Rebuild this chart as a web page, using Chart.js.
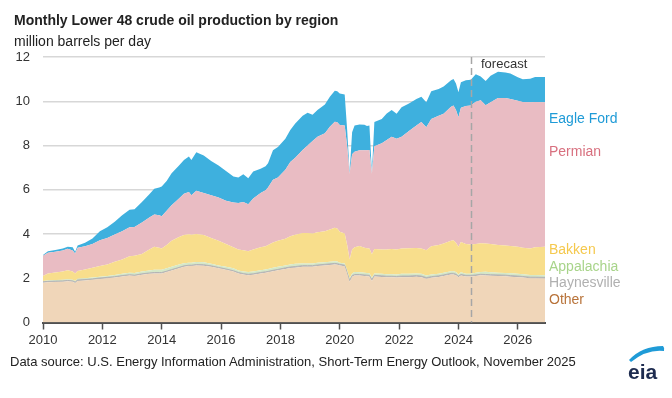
<!DOCTYPE html>
<html>
<head>
<meta charset="utf-8">
<script src="https://cdn.jsdelivr.net/npm/chart.js@4.4.1/dist/chart.umd.min.js"></script>
<style>
  html, body { margin: 0; padding: 0; background: #fff; }
  body { width: 672px; height: 398px; position: relative; overflow: hidden; font-family: "Liberation Sans", Arial, sans-serif; }
  #wrap { position: absolute; left: 0; top: 0; width: 672px; height: 398px; }
  .t { position: absolute; white-space: nowrap; line-height: 1; }
  #title { left: 14px; top: 13px; font-size: 14px; font-weight: bold; color: #222; }
  #sub { left: 14px; top: 34px; font-size: 14px; color: #222; }
  .lab { font-size: 14px; left: 549px; }
  #src { left: 10px; top: 355px; font-size: 13px; color: #222; }
  #fc { left: 481px; top: 57px; font-size: 13px; color: #333; }
  #logo { position: absolute; left: 620px; top: 340px; }
</style>
</head>
<body>
<div id="wrap"><canvas id="c" width="672" height="398"></canvas></div>
<div class="t" id="title">Monthly Lower 48 crude oil production by region</div>
<div class="t" id="sub">million barrels per day</div>
<div class="t" id="fc">forecast</div>
<div class="t lab" style="top:111px;color:#1f9bd7">Eagle Ford</div>
<div class="t lab" style="top:144px;color:#d8707f">Permian</div>
<div class="t lab" style="top:242px;color:#f5c94e">Bakken</div>
<div class="t lab" style="top:259px;color:#a8d48a">Appalachia</div>
<div class="t lab" style="top:275px;color:#b0b0b0">Haynesville</div>
<div class="t lab" style="top:292px;color:#b8733a">Other</div>
<div class="t" id="src">Data source: U.S. Energy Information Administration, Short-Term Energy Outlook, November 2025</div>
<svg id="logo" width="48" height="44" viewBox="0 0 48 44">
  <path d="M9 20 Q22 6 43 6 Q45 8 44 11 Q27 9 11 22 Z" fill="#1f9bd7"/>
  <text x="8" y="39" font-family="Liberation Sans, Arial, sans-serif" font-size="21" font-weight="bold" fill="#1d2b4f">eia</text>
</svg>
<script>
// ---- data (million barrels per day) ----
const dates = ['2010-01','2010-03','2010-06','2010-09','2010-11','2011-01','2011-02','2011-03','2011-06','2011-09','2011-12',
'2012-03','2012-06','2012-09','2012-12','2013-02','2013-05','2013-08','2013-10','2013-12','2014-01','2014-03','2014-05','2014-08',
'2014-10','2014-12','2015-01','2015-03','2015-06','2015-09','2015-12','2016-03','2016-06','2016-08','2016-10','2016-12','2017-02',
'2017-05','2017-07','2017-08','2017-10','2017-12','2018-03','2018-05','2018-07','2018-10','2018-12','2019-02','2019-04','2019-07',
'2019-09','2019-11','2019-12','2020-01','2020-03','2020-04','2020-05','2020-06','2020-07','2020-09','2020-11','2020-12','2021-01',
'2021-02','2021-03','2021-06','2021-08','2021-10','2021-12','2022-02','2022-05','2022-08','2022-10','2022-12','2023-02','2023-05',
'2023-07','2023-10','2023-11','2023-12','2024-01','2024-02','2024-04','2024-06','2024-08','2024-10','2024-12','2025-02','2025-05',
'2025-08','2025-10','2026-01','2026-03','2026-06','2026-08','2026-12'];

const other = [1.80,1.82,1.83,1.84,1.86,1.84,1.79,1.88,1.90,1.93,1.97,
2.00,2.03,2.08,2.12,2.10,2.16,2.20,2.22,2.22,2.22,2.28,2.35,2.45,
2.52,2.55,2.55,2.58,2.57,2.52,2.45,2.38,2.30,2.22,2.17,2.14,2.16,
2.22,2.25,2.27,2.32,2.36,2.42,2.46,2.48,2.52,2.52,2.52,2.55,2.58,
2.60,2.62,2.61,2.58,2.54,2.20,1.84,2.07,2.12,2.12,2.10,2.09,2.08,
1.88,2.08,2.06,2.04,2.04,2.03,2.05,2.05,2.07,2.05,1.98,2.02,2.06,
2.10,2.17,2.17,2.13,2.05,2.12,2.08,2.08,2.10,2.13,2.12,2.11,2.10,
2.09,2.07,2.05,2.03,2.00,2.00,1.99];

const haynesville = [0.04,0.04,0.04,0.04,0.04,0.04,0.04,0.04,0.04,0.04,0.04,
0.04,0.04,0.04,0.04,0.04,0.04,0.04,0.04,0.04,0.04,0.04,0.04,0.04,
0.04,0.04,0.04,0.04,0.04,0.04,0.04,0.04,0.04,0.04,0.04,0.04,0.04,
0.04,0.04,0.04,0.04,0.04,0.05,0.05,0.05,0.05,0.05,0.05,0.05,0.05,
0.05,0.05,0.05,0.05,0.05,0.05,0.05,0.05,0.05,0.05,0.05,0.05,0.05,
0.05,0.05,0.05,0.05,0.05,0.05,0.05,0.05,0.05,0.05,0.05,0.05,0.05,
0.05,0.05,0.05,0.05,0.05,0.05,0.05,0.05,0.05,0.05,0.05,0.05,0.05,
0.05,0.05,0.05,0.05,0.05,0.05,0.05];

const appalachia = [0.04,0.04,0.05,0.05,0.05,0.05,0.05,0.06,0.06,0.06,0.06,
0.06,0.08,0.08,0.09,0.10,0.10,0.11,0.12,0.12,0.12,0.13,0.13,0.13,
0.12,0.11,0.11,0.12,0.11,0.09,0.09,0.10,0.11,0.09,0.09,0.10,0.10,
0.10,0.11,0.11,0.11,0.12,0.11,0.11,0.12,0.10,0.10,0.10,0.10,0.09,
0.10,0.10,0.10,0.07,0.08,0.10,0.11,0.10,0.11,0.10,0.10,0.10,0.10,
0.09,0.09,0.09,0.09,0.09,0.09,0.10,0.10,0.10,0.10,0.09,0.10,0.09,
0.10,0.10,0.10,0.10,0.07,0.10,0.07,0.07,0.10,0.10,0.12,0.11,0.10,
0.10,0.11,0.10,0.10,0.10,0.10,0.10];

const bakken = [0.22,0.32,0.34,0.37,0.41,0.37,0.34,0.35,0.40,0.45,0.48,
0.52,0.60,0.65,0.75,0.78,0.80,0.95,1.04,1.00,0.97,1.05,1.18,1.25,
1.27,1.29,1.27,1.26,1.23,1.17,1.12,1.03,0.95,0.95,0.97,0.94,1.00,
1.04,1.05,1.08,1.15,1.18,1.20,1.28,1.32,1.38,1.38,1.35,1.38,1.40,
1.45,1.51,1.49,1.40,1.35,1.15,0.85,1.08,1.12,1.19,1.13,1.12,1.12,
1.06,1.10,1.10,1.12,1.14,1.13,1.15,1.16,1.15,1.15,1.15,1.28,1.30,
1.32,1.38,1.40,1.32,1.25,1.37,1.35,1.33,1.30,1.30,1.28,1.28,1.25,
1.24,1.23,1.22,1.20,1.20,1.25,1.28];

const permian = [0.92,0.93,0.94,0.95,0.97,0.95,0.90,1.05,1.05,1.07,1.17,
1.20,1.23,1.27,1.30,1.30,1.42,1.45,1.46,1.47,1.45,1.55,1.60,1.73,
1.87,1.91,1.78,1.95,1.90,1.93,1.95,1.95,2.02,2.10,2.18,2.13,2.30,
2.45,2.53,2.60,2.83,2.85,3.12,3.35,3.48,3.75,3.95,4.18,4.32,4.43,
4.65,4.79,4.80,4.83,4.88,4.45,3.87,4.30,4.32,4.32,4.40,4.42,4.45,
3.64,4.65,4.80,4.95,5.08,5.00,5.05,5.29,5.53,5.71,5.56,5.75,5.85,
5.86,6.05,6.09,6.00,5.86,6.07,6.23,6.28,6.43,6.47,6.25,6.40,6.65,
6.67,6.64,6.60,6.59,6.61,6.57,6.54];

const eagleFord = [0.03,0.07,0.08,0.10,0.09,0.15,0.08,0.10,0.15,0.25,0.40,
0.48,0.57,0.73,0.80,0.80,0.93,1.05,1.17,1.25,1.35,1.35,1.45,1.50,
1.53,1.60,1.60,1.75,1.70,1.55,1.45,1.35,1.18,1.15,1.25,1.17,1.22,
1.10,1.08,1.10,1.33,1.38,1.40,1.45,1.55,1.55,1.48,1.19,1.20,1.30,
1.35,1.41,1.40,1.42,1.40,0.75,0.08,1.00,1.18,1.17,1.16,1.10,1.10,
0.08,1.09,1.10,1.20,1.20,1.13,1.33,1.25,1.20,1.14,1.13,1.25,1.20,
1.24,1.20,1.20,1.20,1.13,1.15,1.17,1.16,1.24,1.07,1.09,1.20,1.18,
1.15,1.15,1.06,1.03,1.06,1.13,1.14];

const xTickYears = [2010,2012,2014,2016,2018,2020,2022,2024,2026];
const yTickValues = [0,2,4,6,8,10,12];
const forecastStart = 2024.41;   // position of the dashed "forecast" divider
const xEnd = 2026 + 11/12;       // last month shown (Dec 2026)

// ---- build datasets ----
const xs = dates.map(d => { const [y, m] = d.split('-').map(Number); return y + (m - 1) / 12; });
const pts = arr => arr.map((v, i) => ({ x: xs[i], y: v }));

const series = [
  { label: 'Other',       data: other,       color: '#f0d6b9' },
  { label: 'Haynesville', data: haynesville, color: '#b5b5b5', border: 1 },
  { label: 'Appalachia',  data: appalachia,  color: '#d5e8c8' },
  { label: 'Bakken',      data: bakken,      color: '#f8de8c' },
  { label: 'Permian',     data: permian,     color: '#e9bcc3' },
  { label: 'Eagle Ford',  data: eagleFord,   color: '#3eb0de' }
];

const datasets = series.map((s, i) => ({
  label: s.label,
  data: pts(s.data),
  backgroundColor: s.color,
  borderColor: s.color,
  borderWidth: s.border || 0,
  pointRadius: 0,
  tension: 0,
  fill: i === 0 ? 'origin' : '-1'
}));

const forecastLine = {
  id: 'forecastLine',
  afterDatasetsDraw(chart) {
    const { ctx, chartArea, scales } = chart;
    const x = Math.round(scales.x.getPixelForValue(forecastStart)) + 0.5;
    ctx.save();
    ctx.strokeStyle = '#a6a6a6';
    ctx.lineWidth = 1.5;
    ctx.setLineDash([7, 4]);
    ctx.beginPath();
    ctx.moveTo(x, chartArea.top);
    ctx.lineTo(x, chartArea.bottom);
    ctx.stroke();
    ctx.restore();
  }
};

const FONT = '"Liberation Sans", Arial, sans-serif';

new Chart(document.getElementById('c'), {
  type: 'line',
  data: { datasets },
  plugins: [forecastLine],
  options: {
    responsive: false,
    devicePixelRatio: 1,
    animation: false,
    layout: { padding: { left: 0, right: 127, top: 57, bottom: 0 } },
    plugins: { legend: { display: false }, tooltip: { enabled: false } },
    elements: { line: { borderJoinStyle: 'round' } },
    scales: {
      x: {
        type: 'linear',
        min: 2010,
        max: xEnd,
        z: 1,
        afterFit: s => { s.height = 75.5; },
        afterBuildTicks: s => { s.ticks = xTickYears.map(v => ({ value: v })); },
        ticks: { font: { family: FONT, size: 13 }, color: '#333', padding: 3, maxRotation: 0,
                 callback: v => String(v) },
        grid: { drawOnChartArea: false, drawTicks: true, tickLength: 7, tickColor: '#505050', tickWidth: 1.5 },
        border: { display: true, color: '#505050', width: 2 }
      },
      y: {
        stacked: true,
        min: 0,
        max: 12,
        z: 1,
        afterFit: s => { s.width = 43; },
        afterBuildTicks: s => { s.ticks = yTickValues.map(v => ({ value: v })); },
        ticks: { font: { family: FONT, size: 13 }, color: '#333', padding: 13 },
        grid: { color: 'rgba(150,150,150,0.38)', lineWidth: 1.5, drawTicks: false },
        border: { display: false }
      }
    }
  }
});
</script>
</body>
</html>
